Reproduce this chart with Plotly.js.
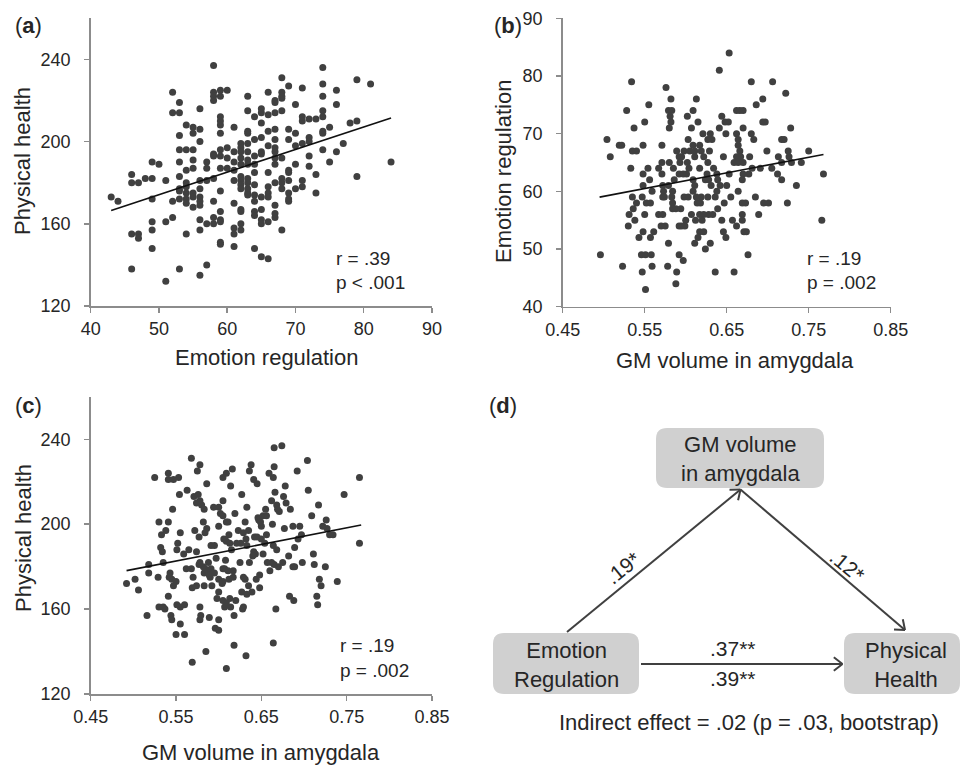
<!DOCTYPE html>
<html>
<head>
<meta charset="utf-8">
<script src="https://cdn.plot.ly/plotly-3.0.1.min.js"></script>
<style>html,body{margin:0;padding:0;background:#fff;}#chart{width:961px;height:768px;}</style>
</head>
<body>
<div id="chart"></div>
<script>
// ---------- Panel (a): Emotion regulation vs Physical health ----------
const emotionA = [
43,44,46,46,46,46,47,47,47,48,
49,49,49,49,49,49,50,51,51,51,
52,52,52,52,
53,53,53,53,53,53,53,53,53,53,
54,54,54,54,54,54,54,54,54,
55,55,55,55,55,55,55,55,
56,56,56,56,56,56,56,56,56,56,56,
57,57,57,57,57,
58,58,58,58,58,58,58,58,58,58,
59,59,59,59,59,59,59,59,59,59,59,59,59,59,59,
60,60,60,60,
61,61,61,61,61,61,61,61,61,
62,62,62,62,62,62,62,62,62,62,62,62,62,
63,63,63,63,63,63,63,63,63,63,63,63,63,
64,64,64,64,64,64,64,64,64,64,64,
65,65,65,65,65,65,65,65,65,65,65,
66,66,66,66,66,66,66,66,66,66,
67,67,67,67,67,67,67,67,67,67,67,67,67,
68,68,68,68,68,68,68,68,68,68,
69,69,69,69,69,69,69,69,69,
70,70,70,70,70,
71,71,71,71,71,71,
72,72,72,72,72,
73,73,73,
74,74,74,74,74,74,74,74,
75,75,
76,76,76,
77,78,
79,79,79,
81,84
];
const healthA = [
173,171,184,180,155,138,180,155,153,182,
190,182,172,161,157,148,189,181,161,132,
224,214,171,163,
219,214,203,196,190,183,177,176,172,138,
208,196,186,180,178,175,172,170,155,
207,204,196,191,187,175,173,168,
216,206,200,181,177,173,171,169,162,157,135,
190,187,181,160,140,
237,224,222,220,194,193,182,171,163,160,
225,222,212,210,208,204,196,193,187,176,166,162,161,151,150,
225,197,192,187,
207,195,190,186,181,170,158,155,149,
199,197,195,192,189,183,181,179,177,167,166,160,157,
222,215,205,204,199,195,191,189,182,180,177,175,174,
212,201,193,189,185,179,174,171,166,164,148,
216,214,209,202,195,194,173,167,162,160,144,
224,213,205,198,185,178,175,173,161,143,
220,219,214,206,201,197,195,192,189,180,169,165,163,
231,224,222,221,215,192,182,180,177,157,
227,206,201,186,185,181,175,172,171,
218,204,198,189,177,
226,212,210,199,181,178,
211,202,200,193,188,
211,184,175,
236,228,222,215,212,205,204,196,
207,190,
225,218,195,
199,209,
230,210,183,
228,190
];
const fitXA = [43, 84];
const fitYA = [166.5, 211.5];

// ---------- Panel (b): GM volume vs Emotion regulation ----------
const gmB = [
0.653,
0.641,
0.534,0.680,0.706,
0.576,
0.722,
0.582,0.613,0.694,
0.555,0.686,
0.528,0.579,0.583,0.609,0.662,0.666,0.670,
0.581,0.602,0.644,
0.550,0.582,0.615,0.648,0.652,0.694,0.697,
0.537,0.580,0.607,0.641,0.670,0.728,
0.621,0.630,0.649,0.662,0.680,
0.504,0.603,0.627,0.632,0.664,0.683,0.717,0.720,
0.519,0.522,0.548,0.571,0.609,0.617,0.664,
0.535,0.540,0.589,0.598,0.605,0.611,0.619,0.629,0.666,0.699,0.725,0.750,
0.508,0.592,0.595,0.611,0.622,0.646,0.662,0.667,0.678,0.713,0.726,
0.571,0.580,0.593,0.602,0.627,0.659,0.664,0.670,0.717,0.729,0.741,
0.533,0.554,0.567,0.585,0.604,0.617,0.634,0.681,0.691,0.705,
0.548,0.571,0.592,0.597,0.601,0.626,0.638,0.653,0.670,0.677,0.712,0.768,
0.556,0.586,0.609,0.624,0.628,0.639,0.669,0.717,
0.548,0.572,0.579,0.611,0.631,0.642,0.650,0.735,
0.559,0.573,0.584,0.609,0.638,0.664,
0.535,0.547,0.572,0.574,0.583,0.598,0.603,0.613,0.619,0.627,0.636,0.655,0.685,
0.540,0.552,0.557,0.584,0.614,0.618,0.647,0.669,0.673,0.695,0.701,0.724,
0.536,0.584,0.588,0.594,0.639,
0.531,0.550,0.567,0.572,0.607,0.617,0.622,0.628,0.633,0.669,0.689,
0.538,0.600,0.612,0.620,0.644,0.657,0.669,0.766,
0.530,0.570,0.575,0.592,0.595,0.599,0.662,
0.548,0.561,0.617,0.622,0.646,0.671,0.674,
0.543,0.557,0.615,0.649,
0.579,0.611,0.630,
0.624,
0.496,0.546,0.551,0.558,0.592,0.676,
0.597,
0.523,0.559,0.578,
0.547,0.589,0.636,0.659,
0.588,
0.551
];
const emotionB = [
84,
81,
79,79,79,
78,
77,
76,76,76,
75,75,
74,74,74,74,74,74,74,
73,73,73,
72,72,72,72,72,72,72,
71,71,71,71,71,71,
70,70,70,70,70,
69,69,69,69,69,69,69,69,
68,68,68,68,68,68,68,
67,67,67,67,67,67,67,67,67,67,67,67,
66,66,66,66,66,66,66,66,66,66,66,
65,65,65,65,65,65,65,65,65,65,65,
64,64,64,64,64,64,64,64,64,64,
63,63,63,63,63,63,63,63,63,63,63,63,
62,62,62,62,62,62,62,62,
61,61,61,61,61,61,61,61,
60,60,60,60,60,60,
59,59,59,59,59,59,59,59,59,59,59,59,59,
58,58,58,58,58,58,58,58,58,58,58,58,
57,57,57,57,57,
56,56,56,56,56,56,56,56,56,56,56,
55,55,55,55,55,55,55,55,
54,54,54,54,54,54,54,
53,53,53,53,53,53,53,
52,52,52,52,
51,51,51,
50,
49,49,49,49,49,49,
48,
47,47,47,
46,46,46,46,
44,
43
];
const fitXB = [0.495, 0.768];
const fitYB = [59.0, 66.4];

// ---------- Panel (c): GM volume vs Physical health ----------
const gmC = [
0.492,0.502,0.506,0.516,0.518,0.525,0.530,0.529,0.530,0.533,
0.534,0.535,0.538,0.537,0.541,0.541,0.541,0.541,0.543,0.544,
0.545,0.546,0.547,0.550,0.550,0.551,0.552,0.553,0.554,0.555,
0.555,0.555,0.559,0.560,0.560,0.562,0.563,0.568,0.569,0.570,
0.572,0.574,0.574,0.575,0.576,0.577,0.577,0.578,0.578,0.578,
0.579,0.580,0.582,0.583,0.584,0.586,0.585,0.588,0.589,0.590,
0.592,0.594,0.595,0.596,0.597,0.598,0.600,0.600,0.600,0.602,
0.604,0.605,0.605,0.605,0.606,0.607,0.608,0.609,0.611,0.612,
0.612,0.613,0.614,0.615,0.616,0.617,0.618,0.618,0.619,0.620,
0.621,0.623,0.625,0.627,0.627,0.628,0.629,0.631,0.632,0.633,
0.633,0.635,0.636,0.638,0.639,0.641,0.642,0.643,0.644,0.645,
0.646,0.648,0.648,0.650,0.652,0.654,0.655,0.656,0.657,0.659,
0.660,0.662,0.663,0.664,0.665,0.665,0.666,0.667,0.668,0.670,
0.671,0.674,0.675,0.677,0.678,0.679,0.682,0.683,0.684,0.687,
0.688,0.689,0.689,0.692,0.693,0.695,0.697,0.698,0.704,0.705,
0.709,0.711,0.712,0.715,0.716,0.717,0.718,0.720,0.722,0.725,
0.726,0.727,0.730,0.734,0.739,0.747,0.765,0.765,
0.609,0.571,0.578,0.583,0.600,0.605,0.609,0.586,0.609,0.613,
0.626,0.532,0.565,0.574,0.591,0.578,0.582,0.584,0.588,0.591,
0.595,0.589,0.568,0.607,0.611,0.600,0.605,0.617,0.518,0.547,
0.542,0.569,0.583,0.600,0.605,0.609,0.614,0.535,0.551,0.545,
0.636,0.664,0.676,0.668,0.669,0.647,0.652,0.656,0.649,0.635,
0.629,0.632,0.645,0.650,0.641,0.640,0.664,0.687,0.662,0.665,
0.631,0.633,0.629
];
const healthC = [
172,174,169,157,181,222,201,175,161,195,
187,182,197,160,224,221,201,166,177,157,
174,207,221,173,148,188,191,222,214,196,
153,161,186,148,162,179,216,231,135,175,
197,210,171,225,214,194,181,228,161,155,
157,209,201,177,196,219,140,182,156,175,
171,208,190,151,184,165,150,199,155,205,
172,179,222,211,193,161,183,132,201,195,
174,165,218,188,226,175,157,143,205,164,
191,197,182,214,168,160,175,201,138,190,
208,171,182,228,168,221,194,186,174,219,
203,176,170,199,186,191,207,195,182,224,
178,211,200,144,227,236,215,160,188,180,
206,237,182,198,218,210,185,166,207,199,
164,189,180,225,193,199,195,182,230,216,
204,186,181,166,162,209,174,171,199,180,
202,198,195,195,173,214,222,191,
224,213,211,207,208,204,201,198,192,191,
191,189,188,187,190,182,180,179,178,179,
177,176,179,179,178,174,173,178,177,171,
175,170,171,168,164,163,161,161,162,155,
225,222,213,209,207,202,204,204,201,197,
196,193,194,193,187,185,190,180,182,181,
174,167,161
];
const fitXC = [0.492, 0.767];
const fitYC = [178.1, 199.6];

// ---------- Tick labels ----------
const ticksHealth = [120, 160, 200, 240];
const ticksEmotionX = [40, 50, 60, 70, 80, 90];
const ticksGM = [0.45, 0.55, 0.65, 0.75, 0.85];
const ticksEmotionY = [40, 50, 60, 70, 80, 90];

// ---------- helpers (page pixel -> paper) ----------
const W = 961, H = 768;
const PX = x => x / W;
const PY = y => 1 - y / H;
const FONT = 'Arial, "Liberation Sans", sans-serif';
const TXT = '#262626';
const DOT = '#404040';
const AXC = '#8c8c8c';

function ann(text, x, y, size, extra) {
  return Object.assign({
    text: text, x: PX(x), y: PY(y), xref: 'paper', yref: 'paper',
    showarrow: false, xanchor: 'center', yanchor: 'middle',
    font: {family: FONT, size: size, color: TXT}
  }, extra || {});
}

const dotStyle = {color: DOT, size: 7};
const fitStyle = {color: '#111', width: 1.6};

const traces = [
  {x: emotionA, y: healthA, xaxis: 'x', yaxis: 'y', mode: 'markers', type: 'scatter', marker: dotStyle, hoverinfo: 'skip'},
  {x: fitXA, y: fitYA, xaxis: 'x', yaxis: 'y', mode: 'lines', type: 'scatter', line: fitStyle, hoverinfo: 'skip'},
  {x: gmB, y: emotionB, xaxis: 'x2', yaxis: 'y2', mode: 'markers', type: 'scatter', marker: dotStyle, hoverinfo: 'skip'},
  {x: fitXB, y: fitYB, xaxis: 'x2', yaxis: 'y2', mode: 'lines', type: 'scatter', line: fitStyle, hoverinfo: 'skip'},
  {x: gmC, y: healthC, xaxis: 'x3', yaxis: 'y3', mode: 'markers', type: 'scatter', marker: dotStyle, hoverinfo: 'skip'},
  {x: fitXC, y: fitYC, xaxis: 'x3', yaxis: 'y3', mode: 'lines', type: 'scatter', line: fitStyle, hoverinfo: 'skip'}
];

function xax(domain, range, vals, anchor, fmt) {
  return {
    domain: domain, range: range, anchor: anchor, tickvals: vals, tickformat: fmt || '',
    showline: true, linecolor: AXC, linewidth: 1.5, ticks: 'outside', ticklen: 5,
    tickcolor: AXC, tickwidth: 1.5, showgrid: false, zeroline: false,
    tickfont: {family: FONT, size: 18, color: TXT}, ticklabelstandoff: 1, fixedrange: true
  };
}
function yax(domain, range, vals, anchor) {
  return {
    domain: domain, range: range, anchor: anchor, tickvals: vals,
    showline: true, linecolor: AXC, linewidth: 1.5, ticks: 'outside', ticklen: 5,
    tickcolor: AXC, tickwidth: 1.5, showgrid: false, zeroline: false,
    tickfont: {family: FONT, size: 18, color: TXT}, ticklabelstandoff: 10, fixedrange: true
  };
}

// Rounded rectangle path in paper coordinates from page pixels
function rrect(x0, y0, x1, y1, r) {
  const P = (x, y) => PX(x) + ',' + PY(y);
  return 'M' + P(x0 + r, y0) + ' L' + P(x1 - r, y0) + ' Q' + P(x1, y0) + ' ' + P(x1, y0 + r) +
    ' L' + P(x1, y1 - r) + ' Q' + P(x1, y1) + ' ' + P(x1 - r, y1) +
    ' L' + P(x0 + r, y1) + ' Q' + P(x0, y1) + ' ' + P(x0, y1 - r) +
    ' L' + P(x0, y0 + r) + ' Q' + P(x0, y0) + ' ' + P(x0 + r, y0) + ' Z';
}
const boxFill = '#d0d0d0';
const shapes = [
  {type: 'path', xref: 'paper', yref: 'paper', path: rrect(656, 428, 824, 488, 11), fillcolor: boxFill, line: {width: 0}, layer: 'below'},
  {type: 'path', xref: 'paper', yref: 'paper', path: rrect(493, 633, 639, 694, 11), fillcolor: boxFill, line: {width: 0}, layer: 'below'},
  {type: 'path', xref: 'paper', yref: 'paper', path: rrect(844, 633, 960, 694, 11), fillcolor: boxFill, line: {width: 0}, layer: 'below'}
];
const arrowColor = '#404040';
function arrow(x0, y0, x1, y1) {
  const dx = x1 - x0, dy = y1 - y0, L = Math.hypot(dx, dy);
  const ux = dx / L, uy = dy / L, len = 11, th = 38 * Math.PI / 180;
  const ln = {color: arrowColor, width: 2};
  shapes.push({type: 'line', xref: 'paper', yref: 'paper', x0: PX(x0), y0: PY(y0), x1: PX(x1), y1: PY(y1), line: ln});
  [th, -th].forEach(a => {
    const rx = ux * Math.cos(a) - uy * Math.sin(a);
    const ry = ux * Math.sin(a) + uy * Math.cos(a);
    shapes.push({type: 'line', xref: 'paper', yref: 'paper', x0: PX(x1), y0: PY(y1),
      x1: PX(x1 - rx * len), y1: PY(y1 - ry * len), line: ln});
  });
}
arrow(567, 632, 740.5, 489.5);
arrow(740.5, 489.5, 905, 630);
arrow(641, 664, 842.5, 664);

const annotations = [
  // panel letters
  ann('(<b>a</b>)', 13, 25, 22, {xanchor: 'left'}),
  ann('(<b>b</b>)', 492, 25, 22, {xanchor: 'left'}),
  ann('(<b>c</b>)', 13, 405, 22, {xanchor: 'left'}),
  ann('(<b>d</b>)', 487, 405, 22, {xanchor: 'left'}),
  // axis titles
  ann('Emotion regulation', 266, 358, 22),
  ann('Physical health', 23, 161, 22, {textangle: -90}),
  ann('GM volume in amygdala', 735, 360, 22),
  ann('Emotion regulation', 503, 172, 22, {textangle: -90}),
  ann('GM volume in amygdala', 261, 752, 22),
  ann('Physical health', 23, 538, 22, {textangle: -90}),
  // stats
  ann('r = .39', 334, 258, 19, {xanchor: 'left'}),
  ann('p &lt; .001', 334, 283, 19, {xanchor: 'left'}),
  ann('r = .19', 805, 258, 19, {xanchor: 'left'}),
  ann('p = .002', 805, 283, 19, {xanchor: 'left'}),
  ann('r = .19', 338, 645, 19, {xanchor: 'left'}),
  ann('p = .002', 338, 670, 19, {xanchor: 'left'}),
  // diagram
  ann('GM volume<br>in amygdala', 740, 459, 22),
  ann('Emotion<br>Regulation', 566, 665, 22),
  ann('Physical<br>Health', 906, 665, 22),
  ann('.19*', 622, 568, 21, {textangle: -39}),
  ann('.12*', 847, 565, 21, {textangle: 40}),
  ann('.37**', 733, 648, 21),
  ann('.39**', 733, 678, 21),
  ann('Indirect effect = .02 (p = .03, bootstrap)', 749, 722, 22)
];

const layout = {
  width: W, height: H, margin: {l: 0, r: 0, t: 0, b: 0},
  paper_bgcolor: '#ffffff', plot_bgcolor: 'rgba(0,0,0,0)',
  showlegend: false, font: {family: FONT, color: TXT},
  xaxis: xax([PX(90.7), PX(432)], [40, 90], ticksEmotionX, 'y'),
  yaxis: yax([PY(306), PY(18.2)], [120, 260], ticksHealth, 'x'),
  xaxis2: xax([PX(562.7), PX(890.7)], [0.45, 0.85], ticksGM, 'y2', '.2f'),
  yaxis2: yax([PY(306.7), PY(18.3)], [40, 90], ticksEmotionY, 'x2'),
  xaxis3: xax([PX(90.7), PX(432)], [0.45, 0.85], ticksGM, 'y3', '.2f'),
  yaxis3: yax([PY(694), PY(396.8)], [120, 260], ticksHealth, 'x3'),
  shapes: shapes,
  annotations: annotations
};

Plotly.newPlot('chart', traces, layout, {displayModeBar: false, staticPlot: true});
</script>
</body>
</html>
